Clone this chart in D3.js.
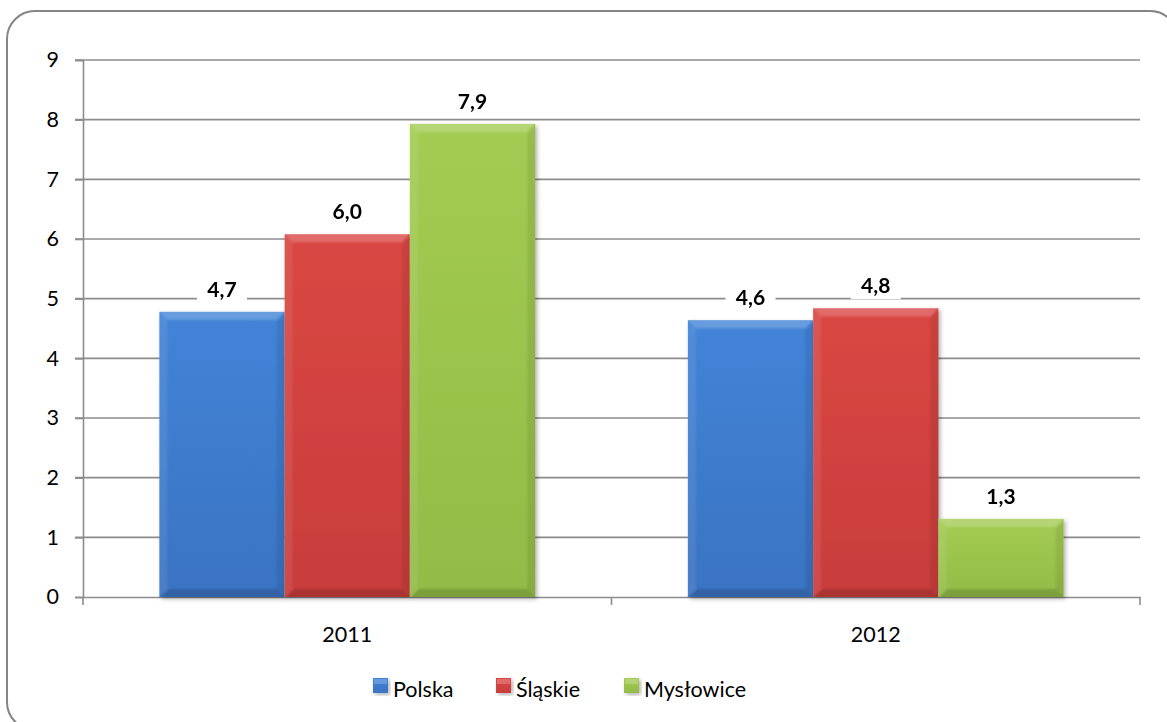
<!DOCTYPE html>
<html>
<head>
<meta charset="utf-8">
<script src="https://cdn.jsdelivr.net/npm/d3@7"></script>
<style>
  html, body { margin: 0; padding: 0; background: #fff; }
  svg { display: block; }
  text { font-family: Lato, "Open Sans", sans-serif; fill: #000; }
</style>
</head>
<body>
<svg id="chart" width="1167" height="722"></svg>
<script>
// ---- data ----
const categories = ["2011", "2012"];
const seriesNames = ["Polska", "Śląskie", "Mysłowice"];
const polska = [4.78, 4.64];
const slaskie = [6.08, 4.84];
const myslowice = [7.93, 1.31];
const yTicks = [0, 1, 2, 3, 4, 5, 6, 7, 8, 9];

const seriesValues = [polska, slaskie, myslowice];
const colors = {
  "Polska":    { top: "#4384D8", bottom: "#3A73C2" },
  "Śląskie":   { top: "#DA4744", bottom: "#C83D3B" },
  "Mysłowice": { top: "#A4CC53", bottom: "#92BB47" }
};

const svg = d3.select("#chart");

// outer rounded border
svg.append("rect")
  .attr("x", 7).attr("y", 11).attr("width", 1171).attr("height", 719)
  .attr("rx", 28).attr("ry", 28)
  .attr("fill", "#fff").attr("stroke", "#858585").attr("stroke-width", 2);

const plot = { left: 83, right: 1140, top: 60, bottom: 597 };

const y = d3.scaleLinear().domain([0, 9]).range([plot.bottom, plot.top]);
const x0 = d3.scaleBand().domain(categories).range([plot.left, plot.right])
  .paddingInner(0.289).paddingOuter(0.1445);
const x1 = d3.scaleBand().domain(seriesNames).range([0, x0.bandwidth()]).padding(0);

const defs = svg.append("defs");
seriesNames.forEach((s, i) => {
  const g = defs.append("linearGradient").attr("id", "grad" + i)
    .attr("x1", 0).attr("y1", 0).attr("x2", 0).attr("y2", 1);
  g.append("stop").attr("offset", "0%").attr("stop-color", colors[s].top);
  g.append("stop").attr("offset", "100%").attr("stop-color", colors[s].bottom);
});
const f = defs.append("filter").attr("id", "shadow")
  .attr("x", "-10%").attr("y", "-10%").attr("width", "130%").attr("height", "130%");
f.append("feDropShadow").attr("dx", 2).attr("dy", 2).attr("stdDeviation", 2)
  .attr("flood-color", "#000").attr("flood-opacity", 0.3);
const soft = defs.append("filter").attr("id", "soft");
soft.append("feGaussianBlur").attr("stdDeviation", 1.2);

// gridlines
svg.append("g").selectAll("line").data(yTicks.filter(d => d > 0)).join("line")
  .attr("x1", plot.left - 8).attr("x2", plot.right)
  .attr("y1", d => y(d)).attr("y2", d => y(d))
  .attr("stroke", "#8c8c8c").attr("stroke-width", 1.6);

// y axis
const yAxis = svg.append("g").attr("transform", `translate(${plot.left},0)`)
  .call(d3.axisLeft(y).tickValues(yTicks).tickSize(8).tickPadding(16).tickFormat(d3.format("d")));
yAxis.select(".domain").attr("stroke", "#8c8c8c").attr("stroke-width", 1.6);
yAxis.selectAll(".tick line").attr("stroke", "#8c8c8c").attr("stroke-width", 1.6);
yAxis.selectAll(".tick text").attr("font-size", 21.5).attr("font-family", "Lato").attr("fill", "#000");

// x axis
const xAxis = svg.append("g").attr("transform", `translate(0,${plot.bottom})`)
  .call(d3.axisBottom(x0).tickSize(0).tickPadding(30));
xAxis.select(".domain").attr("stroke", "#8c8c8c").attr("stroke-width", 1.6);
xAxis.selectAll(".tick text").attr("font-size", 21.5).attr("font-family", "Lato").attr("fill", "#000");
// category boundary ticks
const bounds = [plot.left, (plot.left + plot.right) / 2, plot.right];
svg.append("g").selectAll("line").data(bounds).join("line")
  .attr("x1", d => d).attr("x2", d => d)
  .attr("y1", plot.bottom).attr("y2", plot.bottom + 8)
  .attr("stroke", "#8c8c8c").attr("stroke-width", 1.6);

// bars
const barData = [];
categories.forEach((c, ci) => {
  seriesNames.forEach((s, si) => {
    barData.push({ cat: c, series: s, si, value: seriesValues[si][ci] });
  });
});

const bev = 8;
const bars = svg.append("g").selectAll("g.bar").data(barData).join("g").attr("class", "bar");
bars.each(function(d) {
  const g = d3.select(this);
  const bx = x0(d.cat) + x1(d.series);
  const bw = x1.bandwidth();
  const by = y(d.value);
  const bh = y(0) - by;
  g.append("rect").attr("x", bx).attr("y", by).attr("width", bw).attr("height", bh)
    .attr("fill", `url(#grad${d.si})`).attr("filter", "url(#shadow)");
  const b = Math.min(bev, bh / 2);
  const x2 = bx + bw, y2 = by + bh;
  const clipId = "clip" + d.cat + d.si;
  defs.append("clipPath").attr("id", clipId).append("rect")
    .attr("x", bx).attr("y", by).attr("width", bw).attr("height", bh);
  const bg = g.append("g").attr("clip-path", `url(#${clipId})`).append("g").attr("filter", "url(#soft)");
  // top bevel (light)
  bg.append("polygon").attr("points", `${bx - 3},${by - 3} ${x2 + 3},${by - 3} ${x2 - b},${by + b} ${bx + b},${by + b}`)
    .attr("fill", "#fff").attr("opacity", 0.2);
  // left bevel (light)
  bg.append("polygon").attr("points", `${bx - 3},${by - 3} ${bx + b},${by + b} ${bx + b},${y2 - b} ${bx - 3},${y2 + 3}`)
    .attr("fill", "#fff").attr("opacity", 0.08);
  // right bevel (dark)
  bg.append("polygon").attr("points", `${x2 + 3},${by - 3} ${x2 + 3},${y2 + 3} ${x2 - b},${y2 - b} ${x2 - b},${by + b}`)
    .attr("fill", "#000").attr("opacity", 0.08);
  // bottom bevel (dark)
  bg.append("polygon").attr("points", `${bx - 3},${y2 + 3} ${x2 + 3},${y2 + 3} ${x2 - b},${y2 - b} ${bx + b},${y2 - b}`)
    .attr("fill", "#000").attr("opacity", 0.15);
});

// data labels with white background
const fmt = v => d3.format(".1f")(Math.floor(v * 10 + 1e-9) / 10).replace(".", ",");
const labels = svg.append("g").selectAll("g.lbl").data(barData).join("g").attr("class", "lbl");
labels.each(function(d) {
  const g = d3.select(this);
  const cx = x0(d.cat) + x1(d.series) + x1.bandwidth() / 2;
  const base = y(d.value) - 15;
  g.append("rect").attr("x", cx - 25).attr("y", base - 20).attr("width", 50).attr("height", 26)
    .attr("fill", "#fff");
  g.append("text").attr("x", cx).attr("y", base).attr("text-anchor", "middle")
    .attr("font-size", 21).attr("font-weight", "bold").text(fmt(d.value));
});

// legend
const legendX = [373, 496, 624];
const legend = svg.append("g").selectAll("g").data(seriesNames).join("g")
  .attr("transform", (d, i) => `translate(${legendX[i]},678)`);
legend.append("rect").attr("width", 15).attr("height", 15)
  .attr("fill", (d, i) => `url(#grad${i})`).attr("filter", "url(#shadow)");
legend.append("rect").attr("x", 1).attr("y", 1).attr("width", 13).attr("height", 5)
  .attr("fill", "#fff").attr("opacity", 0.2);
legend.append("text").attr("x", 20).attr("y", 19).attr("font-size", 21.5).text(d => d);
</script>
</body>
</html>
